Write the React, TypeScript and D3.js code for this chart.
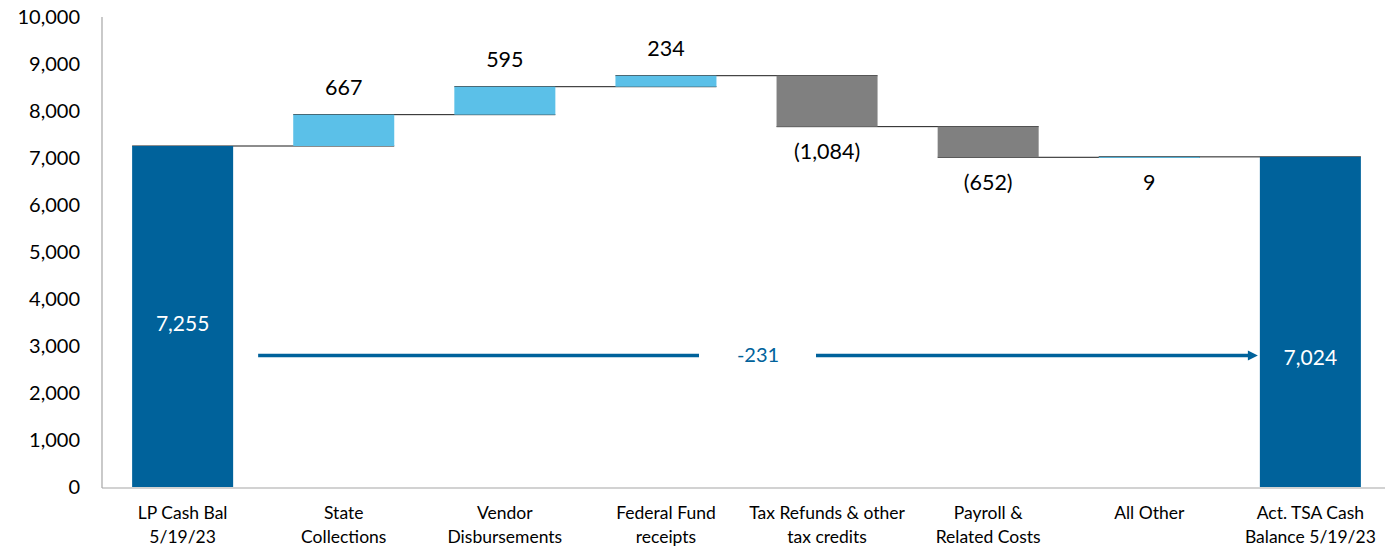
import { scaleBand, scaleLinear, format } from "d3";

// waterfall data (thousands)
const categories = [
  ["LP Cash Bal", "5/19/23"],
  ["State", "Collections"],
  ["Vendor", "Disbursements"],
  ["Federal Fund", "receipts"],
  ["Tax Refunds & other", "tax credits"],
  ["Payroll &", "Related Costs"],
  ["All Other"],
  ["Act. TSA Cash", "Balance 5/19/23"],
];
const startBalance = 7255;
const changes = [667, 595, 234, -1084, -652, 9];
const endBalance = 7024;
const netChange = -231;
const arrowLevel = 2800;
const yTicks = [0, 1000, 2000, 3000, 4000, 5000, 6000, 7000, 8000, 9000, 10000];

const W = 1387;
const H = 548;
const TOTAL = "#00629b";
const UP = "#5bc0e8";
const DOWN = "#808080";
const FONT = "Lato, 'Open Sans', sans-serif";

const fmt = format(",");
const fmtSigned = (v: number) => (v < 0 ? "-" + fmt(-v) : fmt(v));
const fmtChange = (v: number) => (v < 0 ? `(${fmt(-v)})` : fmt(v));

type Step = { key: string; lo: number; hi: number; end: number; value: number; kind: "total" | "up" | "down" };

export default function App() {
  const keys = categories.map((c) => c.join(" "));
  const x = scaleBand().domain(keys).range([102, 1391]).paddingInner(0.373).paddingOuter(0.187);
  const y = scaleLinear().domain([0, 10000]).range([487, 17]);

  const steps: Step[] = [];
  steps.push({ key: keys[0], lo: 0, hi: startBalance, end: startBalance, value: startBalance, kind: "total" });
  let run = startBalance;
  changes.forEach((c, i) => {
    const next = run + c;
    steps.push({
      key: keys[i + 1],
      lo: Math.min(run, next),
      hi: Math.max(run, next),
      end: next,
      value: c,
      kind: c >= 0 ? "up" : "down",
    });
    run = next;
  });
  steps.push({ key: keys[keys.length - 1], lo: 0, hi: endBalance, end: endBalance, value: endBalance, kind: "total" });

  const bw = x.bandwidth();
  const first = x(keys[0]) ?? 0;
  const last = x(keys[keys.length - 1]) ?? 0;
  const ay = y(arrowLevel);
  const ax0 = first + bw + 25;
  const ax1 = last - 2;
  const labelX = (ax0 + ax1) / 2;

  return (
    <svg
      width={W}
      height={H}
      style={{ position: "absolute", left: 0, top: 0, display: "block", background: "#fff" }}
      fontFamily={FONT}
    >
      {/* y ticks */}
      {yTicks.map((t) => (
        <text key={t} x={80} y={y(t)} dy="0.35em" textAnchor="end" fontSize={20} fill="#000">
          {fmt(t)}
        </text>
      ))}

      {/* connectors: from bar i left edge to bar i+1 right edge */}
      {steps.slice(0, -1).map((s, i) => {
        const x0 = x(s.key) ?? 0;
        const x1 = (x(steps[i + 1].key) ?? 0) + bw;
        return <line key={`c${i}`} x1={x0} x2={x1} y1={y(s.end)} y2={y(s.end)} stroke="#1a1a1a" strokeWidth={1} />;
      })}

      {/* bars */}
      {steps.map((s) => (
        <rect
          key={s.key}
          x={x(s.key)}
          y={y(s.hi)}
          width={bw}
          height={Math.max(1, y(s.lo) - y(s.hi))}
          fill={s.kind === "total" ? TOTAL : s.kind === "up" ? UP : DOWN}
        />
      ))}

      {/* change labels: large inflows above, outflows and small items below */}
      {steps.map((s) => {
        if (s.kind === "total") return null;
        const cx = (x(s.key) ?? 0) + bw / 2;
        const above = s.kind === "up" && s.value >= 100;
        const ly = above ? y(s.hi) - 27 : y(s.lo) + 25;
        return (
          <text key={`l${s.key}`} x={cx} y={ly} dy="0.35em" textAnchor="middle" fontSize={21.5} fill="#000">
            {fmtChange(s.value)}
          </text>
        );
      })}

      {/* total labels */}
      <text x={first + bw / 2} y={y(startBalance / 2) + 7} dy="0.35em" textAnchor="middle" fontSize={21} fill="#fff">
        {fmt(startBalance)}
      </text>
      <text x={last + bw / 2} y={ay + 2} dy="0.35em" textAnchor="middle" fontSize={21} fill="#fff">
        {fmt(endBalance)}
      </text>

      {/* net change arrow */}
      <line x1={ax0} x2={labelX - 59} y1={ay} y2={ay} stroke={TOTAL} strokeWidth={3.5} />
      <line x1={labelX + 58} x2={ax1 - 8} y1={ay} y2={ay} stroke={TOTAL} strokeWidth={3.5} />
      <path d={`M${ax1 - 10},${ay - 5} L${ax1},${ay} L${ax1 - 10},${ay + 5} Z`} fill={TOTAL} />
      <text x={labelX} y={ay} dy="0.35em" textAnchor="middle" fontSize={20} fill={TOTAL}>
        {fmtSigned(netChange)}
      </text>

      {/* axes */}
      <line x1={102} x2={102} y1={17} y2={488} stroke="#a6a6a6" strokeWidth={1.2} />
      <line x1={102} x2={1385} y1={488} y2={488} stroke="#a6a6a6" strokeWidth={1.2} />

      {/* x labels */}
      {categories.map((c, i) => (
        <text key={`x${i}`} x={(x(keys[i]) ?? 0) + bw / 2} y={513} textAnchor="middle" fontSize={17.5} fill="#000">
          {c.map((line, j) => (
            <tspan key={j} x={(x(keys[i]) ?? 0) + bw / 2} dy={j === 0 ? "0.35em" : 24}>
              {line}
            </tspan>
          ))}
        </text>
      ))}
    </svg>
  );
}
